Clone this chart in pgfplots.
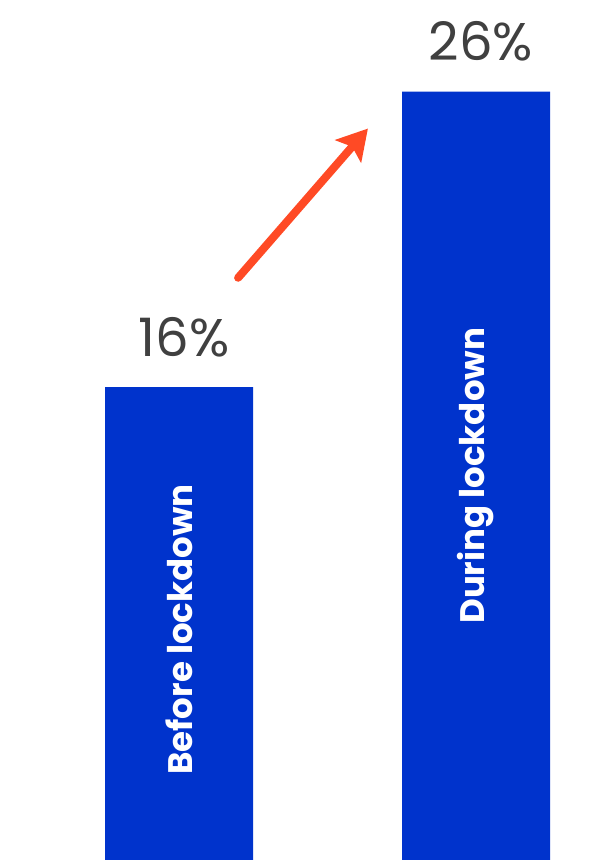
\documentclass[border=0pt]{standalone}
\usepackage{pgfplots}
\pgfplotsset{compat=1.18}
\usepackage{fontspec}
\setmainfont{Poppins}
\usetikzlibrary{arrows.meta}
\definecolor{barblue}{RGB}{0,51,204}
\definecolor{arrowred}{RGB}{255,74,37}
\definecolor{txtgray}{RGB}{64,64,64}
\begin{document}
\begin{tikzpicture}
\begin{axis}[
  width=599pt, height=860pt, scale only axis,
  hide axis, clip=false,
  xmin=-0.6027, xmax=1.414, ymin=0, ymax=29.1,
  ybar, bar width=148pt,
  /pgf/number format/assume math mode=true,
]
\addplot[fill=barblue, draw=none,
  nodes near coords={\pgfmathprintnumber{\pgfplotspointmeta}\%},
  every node near coord/.append style={anchor=base, yshift=31pt, xshift=5pt, font=\fontsize{53}{55}\selectfont, text=txtgray},
] coordinates {(0,16) (1,26)};
\node[rotate=90, text=white, font=\fontsize{34}{36}\bfseries] at (axis cs:0,7.8) {Before lockdown};
\node[rotate=90, text=white, font=\fontsize{34}{36}\bfseries] at (axis cs:1,13) {During lockdown};
\draw[arrowred, line width=8pt, line cap=round, -{Stealth[length=30pt, width=34pt, inset=6pt]}]
  (axis cs:0.199,19.7) -- (axis cs:0.636,24.75);
\path (rel axis cs:0,0) (rel axis cs:1,1);
\end{axis}
\end{tikzpicture}
\end{document}
